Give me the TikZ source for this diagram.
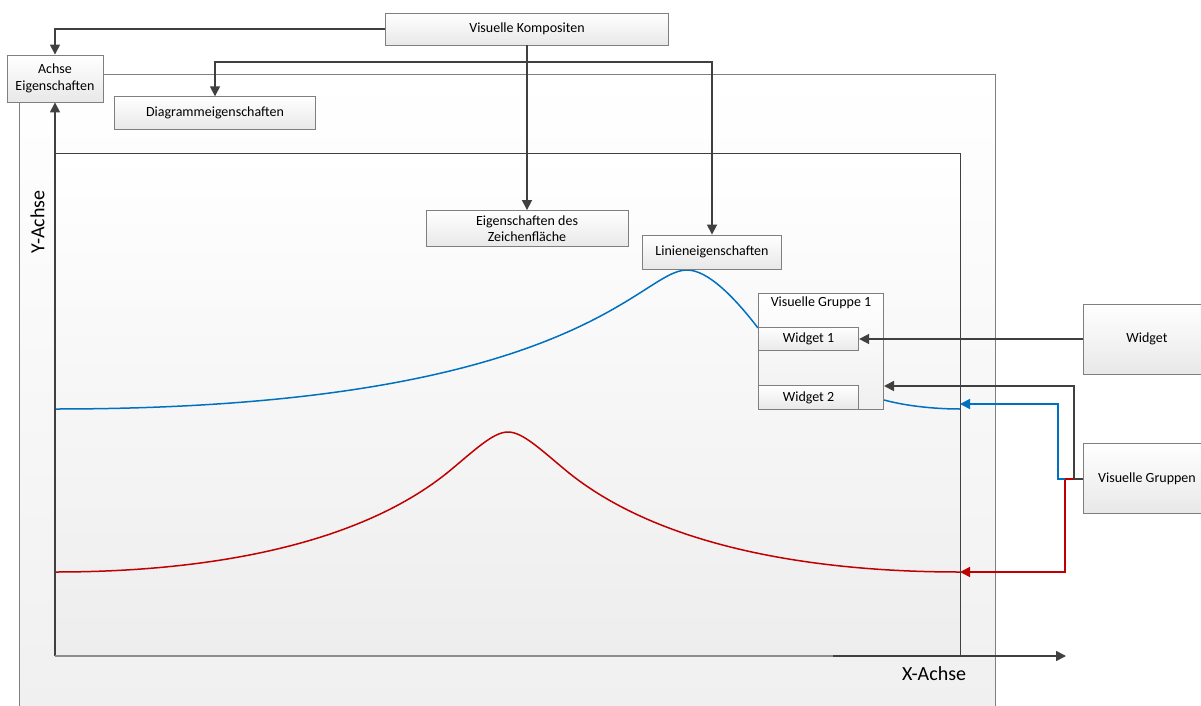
\documentclass[tikz,border=0pt]{standalone}
\usepackage{fontspec}
\setmainfont{Carlito}
\usetikzlibrary{arrows.meta}
\definecolor{conncol}{HTML}{404040}
\definecolor{bordcol}{HTML}{7F7F7F}
\definecolor{lblue}{HTML}{0070C0}
\definecolor{lred}{HTML}{C00000}
\tikzset{
  box/.style={draw=bordcol, line width=0.9pt, top color=white, bottom color=black!9,
    inner sep=0pt, align=center, font=\fontsize{14}{16.5}\selectfont},
  arr/.style={draw=conncol, line width=1.7pt, -{Triangle[length=10pt,width=10pt]}},
  plainline/.style={draw=conncol, line width=1.7pt},
  bluearr/.style={draw=lblue, line width=1.6pt, -{Triangle[length=10pt,width=10pt]}},
  redarr/.style={draw=lred, line width=1.6pt, -{Triangle[length=10pt,width=10pt]}},
  curve/.style={line width=1.5pt},
  axislabel/.style={font=\fontsize{20}{24}\selectfont, inner sep=0pt},
}
\begin{document}
\begin{tikzpicture}[x=1pt,y=-1pt]
\path[use as bounding box, clip] (0,0) rectangle (1201,706);

% outer chart frame
\shade[top color=white, bottom color=black!6] (19,74) rectangle (995,720);
\draw[bordcol, line width=0.8pt] (19,720) -- (19,74) -- (995,74) -- (995,720);

% plot area
\shade[top color=white, bottom color=black!7] (55,153) rectangle (960,656);
\draw[conncol, line width=1pt] (55,153) -- (960,153) -- (960,656);

% curves
\draw[lblue, curve] (55,409) .. controls (580,409) and (639,270) .. (687,270)
  .. controls (708,270) and (735,298) .. (758,328);
\draw[lblue, curve] (884,400) .. controls (910,407) and (940,409) .. (960,409);
\draw[lred, curve] (55,572) .. controls (154,572) and (337,561) .. (447,473)
  .. controls (475,450) and (493,432) .. (508,432)
  .. controls (523,432) and (541,450) .. (569,473)
  .. controls (679,561) and (862,572) .. (960,572);

% nodes
\node[box, minimum width=96pt, minimum height=47pt] (achse) at (55,78.5) {Achse\\Eigenschaften};
\node[box, minimum width=283pt, minimum height=32pt] (komp) at (527,29) {Visuelle Kompositen};
\node[box, minimum width=201pt, minimum height=32.5pt] (dia) at (215,113) {Diagrammeigenschaften};
\node[box, minimum width=202pt, minimum height=36pt] (zeich) at (527,228.5) {Eigenschaften des\\Zeichenfläche};
\node[box, minimum width=139pt, minimum height=34pt] (lin) at (712,252) {Linieneigenschaften};

\node[box, bottom color=black!6, minimum width=125.7pt, minimum height=116pt] (vg1) at (821,351.3) {};
\node[font=\fontsize{14}{16.5}\selectfont, inner sep=0pt] (vg1lab) at (821,302.5) {Visuelle Gruppe 1};
\node[box, minimum width=100.4pt, minimum height=23.3pt] (w1) at (808.5,339) {Widget 1};
\node[box, minimum width=100.4pt, minimum height=23.6pt] (w2) at (808.5,397.5) {Widget 2};

\node[box, minimum width=130pt, minimum height=70pt] (wid) at (1148,339) {\hspace*{-2pt}Widget};
\node[box, minimum width=130pt, minimum height=69.5pt] (grp) at (1148,478.6) {\hspace*{-2pt}Visuelle Gruppen};

% axes
\coordinate (origin) at (55,656);
\coordinate (xbreak) at (833,656);
\coordinate (xend) at (1066,656);
\draw[arr] (origin) -- (achse.south);
\draw[draw=black!45, line width=1.8pt] (origin) -- (xbreak);
\draw[arr] (xbreak) -- (xend);
\node[axislabel] (ylab) at (37.5,222) [rotate=90] {Y-Achse};
\node[axislabel] (xlab) at (934,674) {X-Achse};

% connectors
\draw[arr] (komp.west) -| (achse.north);
\draw[arr] (komp.south) -- (zeich.north);
\coordinate (j) at (527,62);
\draw[arr] (j) -| (dia.north);
\draw[arr] (j) -| (lin.north);
\draw[arr] (wid.west) -- (wid.west -| w1.east);

\coordinate (g1) at (1073.7,479);
\coordinate (g2) at (1065,479);
\coordinate (g3) at (1057.7,479);
\coordinate (vgin) at (884,386);
\coordinate (bend) at (960,404);
\coordinate (rend) at (960,572);
\draw[redarr] (g1) -- (g2) |- (rend);
\draw[bluearr] (g2) -- (g3) |- (bend);
\draw[plainline] (grp.west |- g1) -- (g1);
\draw[arr] (g1) |- (vgin);
\end{tikzpicture}
\end{document}
